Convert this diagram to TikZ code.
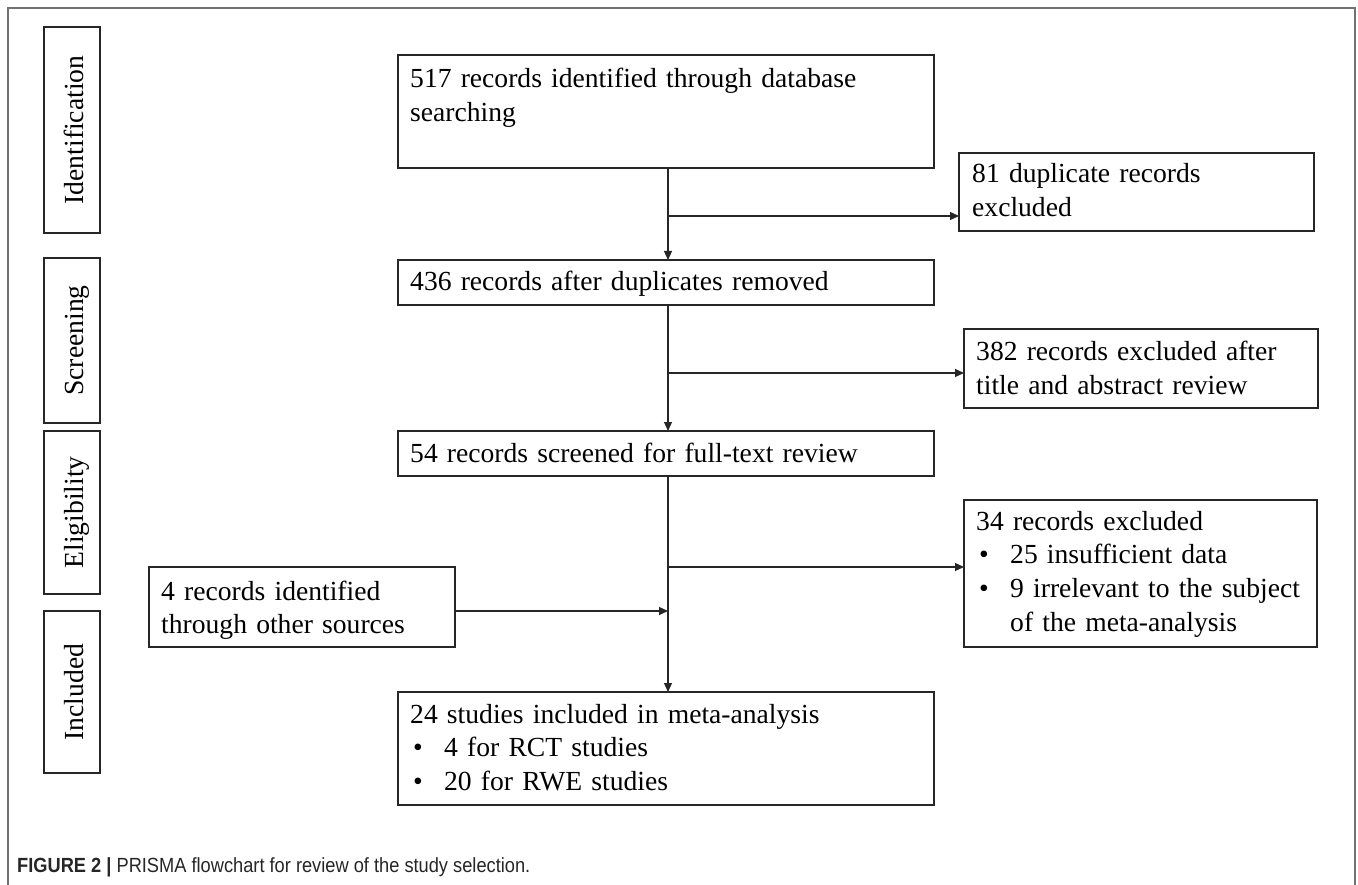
\documentclass[tikz,border=0pt]{standalone}
\usepackage{fontspec}
\usepackage{graphicx}
\setmainfont{Liberation Serif}
\newfontfamily\capfont{Liberation Sans}
\usetikzlibrary{arrows.meta}
\newcommand\blt[1]{\makebox[34pt][l]{\hspace{3pt}•}#1}
\begin{document}
\begin{tikzpicture}[x=1pt,y=-1pt,
  box/.style={draw=black!85, line width=1.5pt, anchor=north west, inner sep=0pt, outer sep=0pt},
  txt/.style={anchor=base west, inner sep=0pt, align=left, text width=#1,
    font=\fontsize{27.6}{33.8}\selectfont},
  txt/.default=520pt,
  side/.style={rotate=90, anchor=base, inner sep=0pt, font=\fontsize{27.6}{33.8}\selectfont},
  conn/.style={draw=black!85, line width=1.2pt},
  arr/.style={conn, -{Triangle[length=9pt,width=8pt]}},
  frame/.style={draw=black!55, line width=2pt}
]
\useasboundingbox (0,0) rectangle (1358,885);
% outer frame
\draw[frame] (7.5,885) -- (7.5,8.5) -- (1355,8.5) -- (1355,885);

% stage boxes
\node[box, minimum width=56pt, minimum height=206pt] (ident) at (44,27) {};
\node[box, minimum width=56pt, minimum height=165pt] (screen) at (44,258) {};
\node[box, minimum width=56pt, minimum height=163pt] (elig) at (44,431) {};
\node[box, minimum width=56pt, minimum height=162pt] (incl) at (44,611) {};
\node[side] (identL) at (83,130) {Identification};
\node[side] (screenL) at (83,340.5) {Screening};
\node[side] (eligL) at (83,512.5) {Eligibility};
\node[side] (inclL) at (83,692) {Included};

% main boxes
\node[box, minimum width=536pt, minimum height=113pt] (A) at (398,55) {};
\node[txt] (At) at (410,87.5) {517 records identified through database\\searching};

\node[box, minimum width=355pt, minimum height=78pt] (B) at (959,153) {};
\node[txt=330pt] (Bt) at (972,183) {81 duplicate records\\excluded};

\node[box, minimum width=536pt, minimum height=45pt] (C) at (398,260) {};
\node[txt] (Ct) at (410,291) {436 records after duplicates removed};

\node[box, minimum width=354pt, minimum height=79pt] (D) at (964,329) {};
\node[txt=330pt] (Dt) at (976,361) {382 records excluded after\\title and abstract review};

\node[box, minimum width=536pt, minimum height=45pt] (E) at (398,431) {};
\node[txt] (Et) at (410,462) {54 records screened for full-text review};

\node[box, minimum width=353pt, minimum height=147pt] (F) at (964,500) {};
\node[txt=340pt] (Ft) at (976,530) {34 records excluded\\\blt{25 insufficient data}\\\blt{9 irrelevant to the subject}\\\hspace*{34pt}of the meta-analysis};

\node[box, minimum width=306pt, minimum height=80pt] (G) at (149,567) {};
\node[txt=290pt] (Gt) at (161,600) {4 records identified\\through other sources};

\node[box, minimum width=536pt, minimum height=113pt] (H) at (398,692) {};
\node[txt] (Ht) at (410,723) {24 studies included in meta-analysis\\\blt{4 for RCT studies}\\\blt{20 for RWE studies}};

% connectors
\coordinate (j1) at (668,216);
\coordinate (j2) at (668,373);
\coordinate (j3) at (668,567);
\coordinate (j4) at (668,611);
\coordinate (g1) at (455,611);
\draw[arr] (A.south -| j1) -- (C.north -| j1);
\draw[arr] (j1) -- (j1 -| B.west);
\draw[arr] (C.south -| j2) -- (E.north -| j2);
\draw[arr] (j2) -- (j2 -| D.west);
\draw[arr] (E.south -| j3) -- (H.north -| j3);
\draw[arr] (j3) -- (j3 -| F.west);
\draw[arr] (g1) -- (j4);

% caption
\node[anchor=base west, inner sep=0pt, text=black!85, font=\capfont\fontsize{20.5}{24}\selectfont] (cap) at (17,872) {\scalebox{0.89}[1]{\textbf{FIGURE 2 |} PRISMA flowchart for review of the study selection.}};
\end{tikzpicture}
\end{document}
